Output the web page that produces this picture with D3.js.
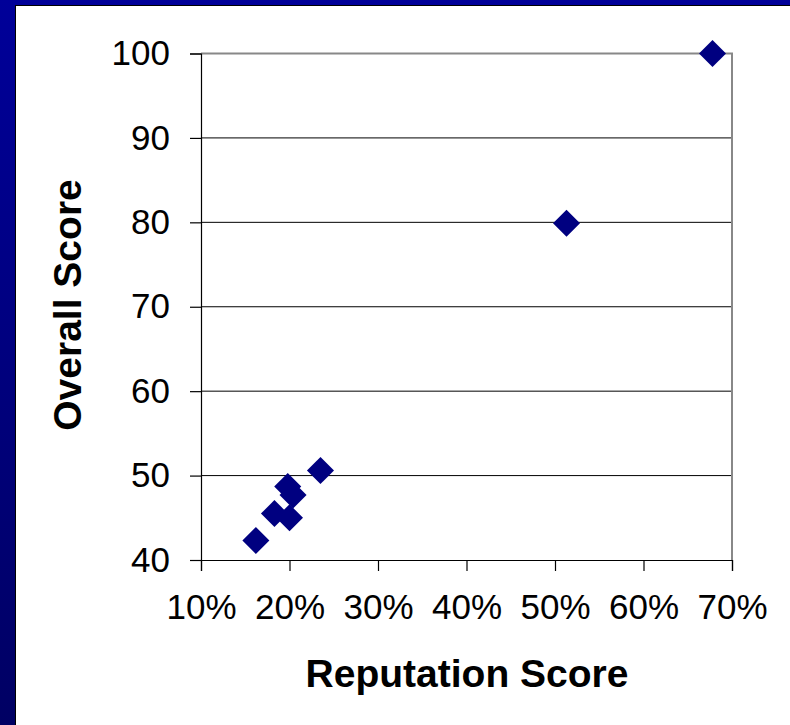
<!DOCTYPE html>
<html>
<head>
<meta charset="utf-8">
<script src="https://cdn.jsdelivr.net/npm/d3@7"></script>
<style>
  html, body { margin: 0; padding: 0; background: #fff; }
  svg { display: block; }
  text { font-family: "Liberation Sans", Arial, sans-serif; fill: #000; }
</style>
</head>
<body>
<svg id="chart" width="790" height="725"></svg>
<script>
// Reputation score (share) vs overall score, one point per institution
const reputation = [0.678, 0.513, 0.235, 0.198, 0.204, 0.183, 0.200, 0.162];
const overall    = [100, 79.9, 50.6, 48.7, 47.7, 45.5, 45.0, 42.3];
const xTicks = [0.1, 0.2, 0.3, 0.4, 0.5, 0.6, 0.7];
const yTicks = [40, 50, 60, 70, 80, 90, 100];
const xTitle = "Reputation Score";
const yTitle = "Overall Score";

const W = 790, H = 725;
const svg = d3.select("#chart");

// Slide-style frame: navy gradient border around a white panel
const defs = svg.append("defs");
const grad = defs.append("linearGradient")
  .attr("id", "frame").attr("x1", 0).attr("y1", 0).attr("x2", 0).attr("y2", 1);
grad.append("stop").attr("offset", "0%").attr("stop-color", "#000099");
grad.append("stop").attr("offset", "100%").attr("stop-color", "#000063");
svg.append("rect").attr("width", W).attr("height", H).attr("fill", "url(#frame)");
svg.append("rect")
  .attr("x", 15.5).attr("y", 5.5).attr("width", W).attr("height", H)
  .attr("fill", "#fff").attr("stroke", "#000").attr("stroke-width", 1);

const x = d3.scaleLinear().domain([0.1, 0.7]).range([201, 732]);
const y = d3.scaleLinear().domain([40, 100]).range([560, 53.5]);

// Horizontal gridlines
svg.append("g").selectAll("line")
  .data(yTicks.filter(v => v > 40 && v < 100))
  .join("line")
  .attr("x1", x(0.1)).attr("x2", x(0.7))
  .attr("y1", d => y(d)).attr("y2", d => y(d))
  .attr("stroke", "#000").attr("stroke-width", 1);

// Plot-area border (top and right)
svg.append("path")
  .attr("d", `M${x(0.1)},${y(100)}H${x(0.7)}V${y(40)}`)
  .attr("fill", "none").attr("stroke", "#888").attr("stroke-width", 2);

// Axes
const fmtPct = d3.format(".0%");
const xAxis = svg.append("g")
  .attr("transform", `translate(0,${y(40)})`)
  .call(d3.axisBottom(x).tickValues(xTicks).tickFormat(fmtPct).tickSize(11).tickPadding(23));
const yAxis = svg.append("g")
  .attr("transform", `translate(${x(0.1)},0)`)
  .call(d3.axisLeft(y).tickValues(yTicks).tickSize(11).tickPadding(20));

[xAxis, yAxis].forEach(g => {
  g.select(".domain").attr("stroke", "#000").attr("stroke-width", 1.2);
  g.selectAll(".tick line").attr("stroke", "#000").attr("stroke-width", 1.2);
  g.selectAll(".tick text")
    .attr("font-family", "'Liberation Sans', Arial, sans-serif")
    .attr("font-size", 35).attr("fill", "#000");
});

// Diamond markers
const diamond = d3.symbol().type(d3.symbolSquare).size(365);
svg.append("g").selectAll("path")
  .data(reputation.map((r, i) => ({ r, o: overall[i] })))
  .join("path")
  .attr("d", diamond)
  .attr("transform", d => `translate(${x(d.r)},${y(d.o)}) rotate(45)`)
  .attr("fill", "#000080");

// Axis titles
svg.append("text")
  .attr("x", 467).attr("y", 687)
  .attr("text-anchor", "middle")
  .attr("font-size", 39).attr("font-weight", "bold")
  .text(xTitle);
svg.append("text")
  .attr("transform", "translate(81,305) rotate(-90)")
  .attr("text-anchor", "middle")
  .attr("font-size", 39).attr("font-weight", "bold")
  .text(yTitle);
</script>
</body>
</html>
